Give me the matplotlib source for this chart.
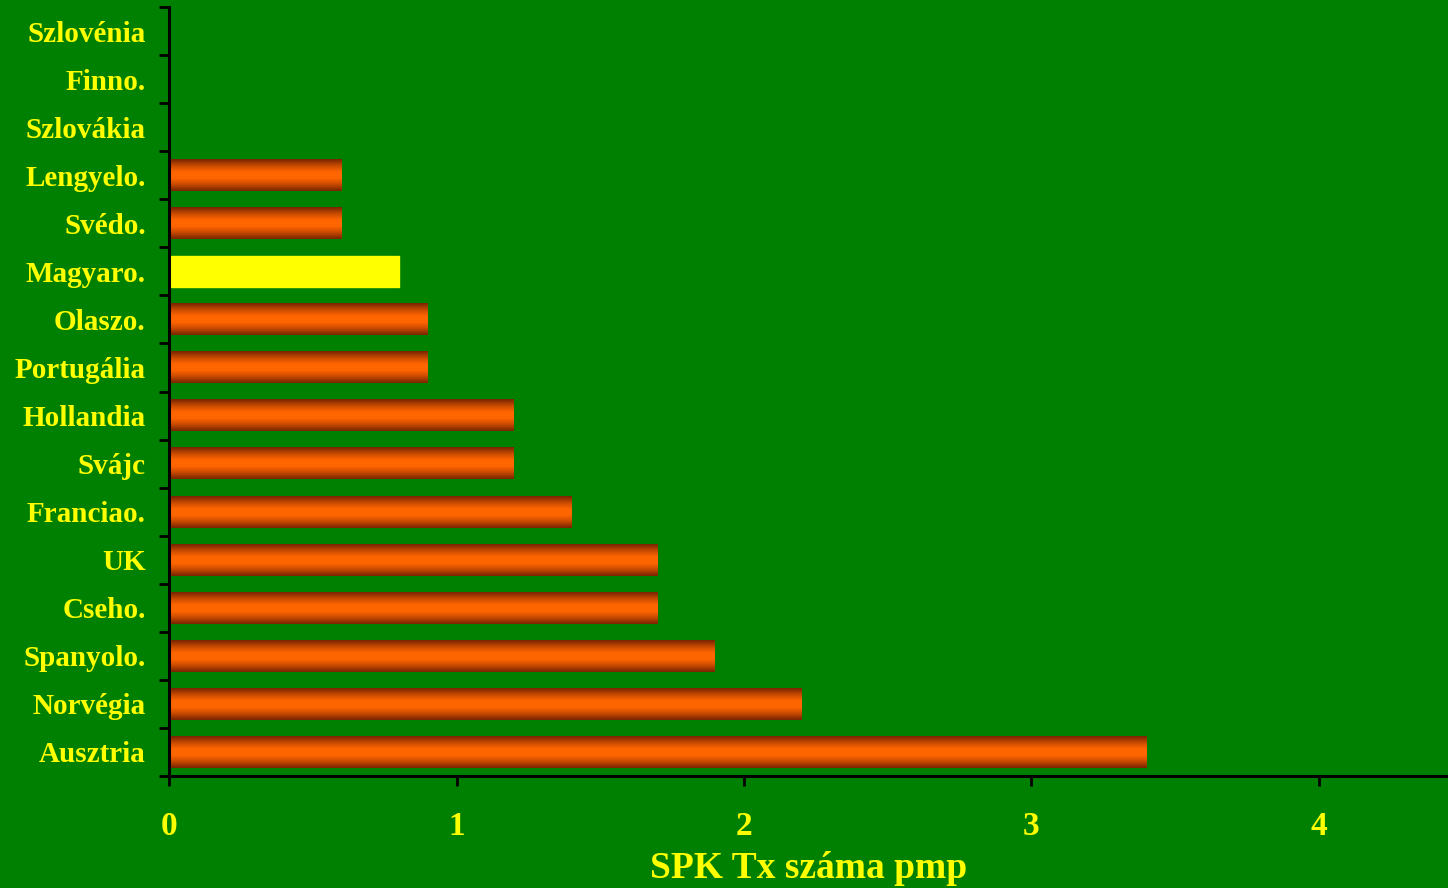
import matplotlib
matplotlib.use("Agg")
import matplotlib.pyplot as plt
import numpy as np
from matplotlib.colors import LinearSegmentedColormap

# data (bottom to top)
countries = ["Ausztria", "Norvégia", "Spanyolo.", "Cseho.", "UK", "Franciao.",
             "Svájc", "Hollandia", "Portugália", "Olaszo.", "Magyaro.",
             "Svédo.", "Lengyelo.", "Szlovákia", "Finno.", "Szlovénia"]
values = [3.4, 2.2, 1.9, 1.7, 1.7, 1.4, 1.2, 1.2, 0.9, 0.9, 0.8, 0.6, 0.6, 0, 0, 0]
highlight = "Magyaro."
x_ticks = [0, 1, 2, 3, 4]
x_label = "SPK Tx száma pmp"

BG = "#008000"
TXT = "#FFFF00"
FONT = "Liberation Serif"

plt.rcParams["font.family"] = [FONT, "DejaVu Serif"]
plt.rcParams["font.weight"] = "bold"

fig = plt.figure(figsize=(14.48, 8.88), dpi=100, facecolor=BG)
ax = fig.add_axes([0.1169, 0.1261, 0.8831, 0.866], facecolor=BG)

pos = np.arange(len(countries))
bars = ax.barh(pos, values, height=0.66, color="none", edgecolor="none")

# vertical shading dark -> orange -> dark
shade = LinearSegmentedColormap.from_list(
    "shade", ["#782400", "#c84a00", "#ff6600", "#ff6600", "#c84a00", "#782400"])
grad = np.linspace(0, 1, 64).reshape(-1, 1)

for name, bar in zip(countries, bars):
    if bar.get_width() <= 0:
        continue
    x0, y0 = bar.get_x(), bar.get_y()
    w, h = bar.get_width(), bar.get_height()
    if name == highlight:
        ax.add_patch(plt.Rectangle((x0, y0), w, h, color=TXT, zorder=2))
    else:
        ax.imshow(grad, extent=(x0, x0 + w, y0, y0 + h), cmap=shade,
                  aspect="auto", interpolation="bicubic", zorder=2)

ax.set_xlim(0, 4.45)
ax.set_ylim(-0.5, len(countries) - 0.5)

# ticks between categories, labels at centres
ax.set_yticks(np.arange(-0.5, len(countries), 1.0))
ax.set_yticklabels([])
ax.set_yticks(pos, minor=True)
ax.set_yticklabels(countries, minor=True)
ax.tick_params(axis="y", which="major", direction="out", length=7, width=2, color="black")
ax.tick_params(axis="y", which="minor", length=0, pad=17, labelsize=21, labelcolor=TXT)

ax.set_xticks(x_ticks)
ax.set_xticklabels([str(t) for t in x_ticks])
ax.tick_params(axis="x", direction="out", length=7, width=2, color="black",
               pad=18, labelsize=24, labelcolor=TXT)
for lab in ax.get_xticklabels() + ax.get_yticklabels(minor=True):
    lab.set_fontweight("bold")

ax.set_xlabel(x_label, color=TXT, fontsize=27, fontweight="bold", labelpad=7)

for side in ["top", "right"]:
    ax.spines[side].set_visible(False)
for side in ["left", "bottom"]:
    ax.spines[side].set_color("black")
    ax.spines[side].set_linewidth(2.2)

fig.savefig("out.png", dpi=100, facecolor=BG)
